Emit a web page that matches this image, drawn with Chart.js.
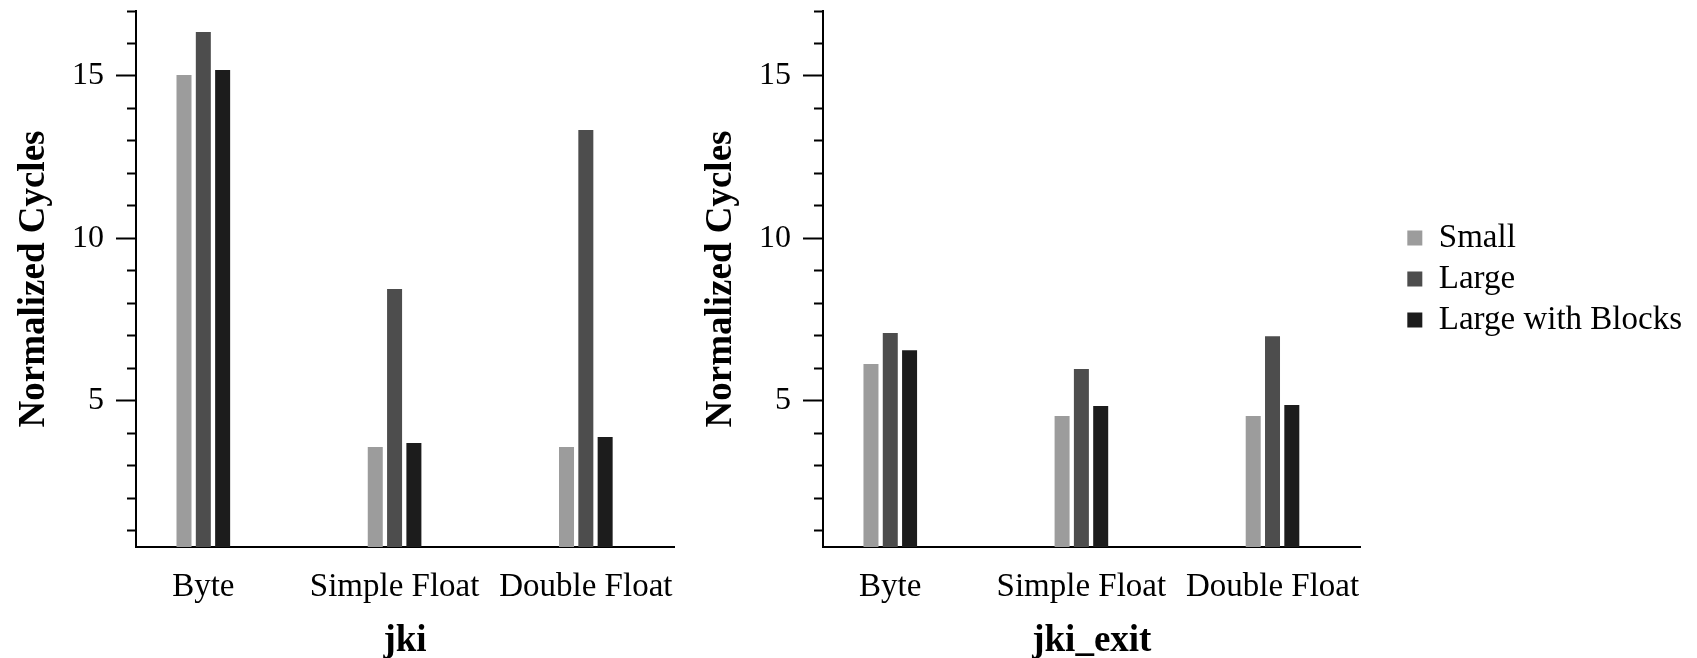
<html>
<head>
  <meta charset="utf-8" />
  <script src="https://cdn.jsdelivr.net/npm/chart.js@4.4.0/dist/chart.umd.min.js"></script>
  <style>
    body {
      margin: 0;
      background: #ffffff;
    }

    #jkiChart {
      position: absolute;
      left: 0;
      top: 0;
    }

    #jkiExitChart {
      position: absolute;
      left: 687px;
      top: 0;
    }
  </style>
</head>

<body>
  <canvas id="jkiChart" width="687" height="658"></canvas>
  <canvas id="jkiExitChart" width="1010" height="658"></canvas>
  <script>
    // chart data
    let chartCategories = ["Byte", "Simple Float", "Double Float"];
    let chartSeries = ["Small", "Large", "Large with Blocks"];

    let jkiSmall = [15.03, 3.58, 3.58];
    let jkiLarge = [16.35, 8.44, 13.34];
    let jkiBlocks = [15.18, 3.70, 3.89];

    let jkiExitSmall = [6.13, 4.53, 4.53];
    let jkiExitLarge = [7.09, 5.98, 6.99];
    let jkiExitBlocks = [6.56, 4.84, 4.87];

    // y ticks: a mark on every integer, a label every 5
    let yTickValues = [1, 2, 3, 4, 5, 6, 7, 8, 9, 10, 11, 12, 13, 14, 15, 16, 17];
    let yLabelValues = [5, 10, 15];

    // chart colors
    let chartBarColors = ["#9c9c9c", "#4d4d4d", "#1c1c1c"];
    let chartInk = "#000000";

    // chart font
    let chartFont = "'Liberation Serif', 'Times New Roman', serif";

    Chart.defaults.font.family = chartFont;
    Chart.defaults.color = chartInk;

    // the legend sits a bit further right than Chart.js puts it
    const legendOffset = {
      id: "legendOffset",
      afterLayout(chart, args, opts) {
        if (chart.legend && opts.shift) {
          chart.legend.left += opts.shift;
          chart.legend.right += opts.shift;
        }
      },
    };

    function buildChart(canvasId, axisTitle, values, showLegend, padRight) {
      let datasets = chartSeries.map((name, s) => ({
        label: name,
        data: values[s].map((v, i) => ({ x: i, y: v })),
        backgroundColor: chartBarColors[s],
        borderWidth: 0,
        categoryPercentage: 0.303,
        barPercentage: 0.777,
      }));

      let config = {
        type: "bar",
        data: { datasets: datasets },
        plugins: [legendOffset],
        options: {
          responsive: false,
          animation: false,
          events: [],
          layout: {
            padding: { top: 11, right: padRight, bottom: 0, left: 0 },
          },
          scales: {
            x: {
              type: "linear",
              offset: false,
              min: -0.352,
              max: 2.461,
              afterBuildTicks: (scale) => {
                scale.ticks = chartCategories.map((c, i) => ({ value: i }));
              },
              afterFit: (scale) => {
                scale.height = 111;
                scale.paddingLeft = 0;
                scale.paddingRight = 0;
              },
              ticks: {
                autoSkip: false,
                maxRotation: 0,
                padding: 21,
                color: chartInk,
                font: { size: 33 },
                callback: (v) => chartCategories[v],
              },
              grid: { display: false, drawTicks: false, offset: false },
              border: { color: chartInk, width: 2 },
              title: {
                display: true,
                text: axisTitle,
                color: chartInk,
                font: { size: 37, weight: "bold" },
                padding: { top: 0, bottom: -5.5 },
              },
            },
            y: {
              min: 0.5,
              max: 17,
              afterBuildTicks: (scale) => {
                scale.ticks = yTickValues.map((v) => ({ value: v }));
              },
              afterFit: (scale) => {
                scale.width = 136;
                scale.paddingTop = 0;
                scale.paddingBottom = 0;
              },
              ticks: {
                autoSkip: false,
                padding: 12,
                color: chartInk,
                font: { size: 32 },
                callback: (v) => (yLabelValues.includes(v) ? v : ""),
              },
              grid: {
                drawOnChartArea: false,
                tickLength: 20,
                tickWidth: 2,
                tickColor: chartInk,
                // minor marks: only the 9px next to the axis
                tickBorderDash: (ctx) =>
                  yLabelValues.includes(ctx.tick.value) ? [] : [0, 11, 9, 0],
              },
              border: { color: chartInk, width: 2 },
              title: {
                display: true,
                text: "Normalized Cycles",
                color: chartInk,
                font: { size: 37, weight: "bold" },
                padding: { top: 12, bottom: 0 },
              },
            },
          },
          plugins: {
            tooltip: { enabled: false },
            legendOffset: { shift: showLegend ? 38.7 : 0 },
            legend: {
              display: showLegend,
              position: "right",
              fullSize: false,
              maxWidth: 400,
              labels: {
                boxWidth: 15,
                boxHeight: 15,
                padding: 8,
                color: chartInk,
                font: { size: 33 },
              },
            },
          },
        },
      };

      return new Chart(document.getElementById(canvasId), config);
    }

    buildChart("jkiChart", "jki", [jkiSmall, jkiLarge, jkiBlocks], false, 13);
    buildChart("jkiExitChart", "jki_exit", [jkiExitSmall, jkiExitLarge, jkiExitBlocks], true, 43.7);
  </script>
</body>
</html>
